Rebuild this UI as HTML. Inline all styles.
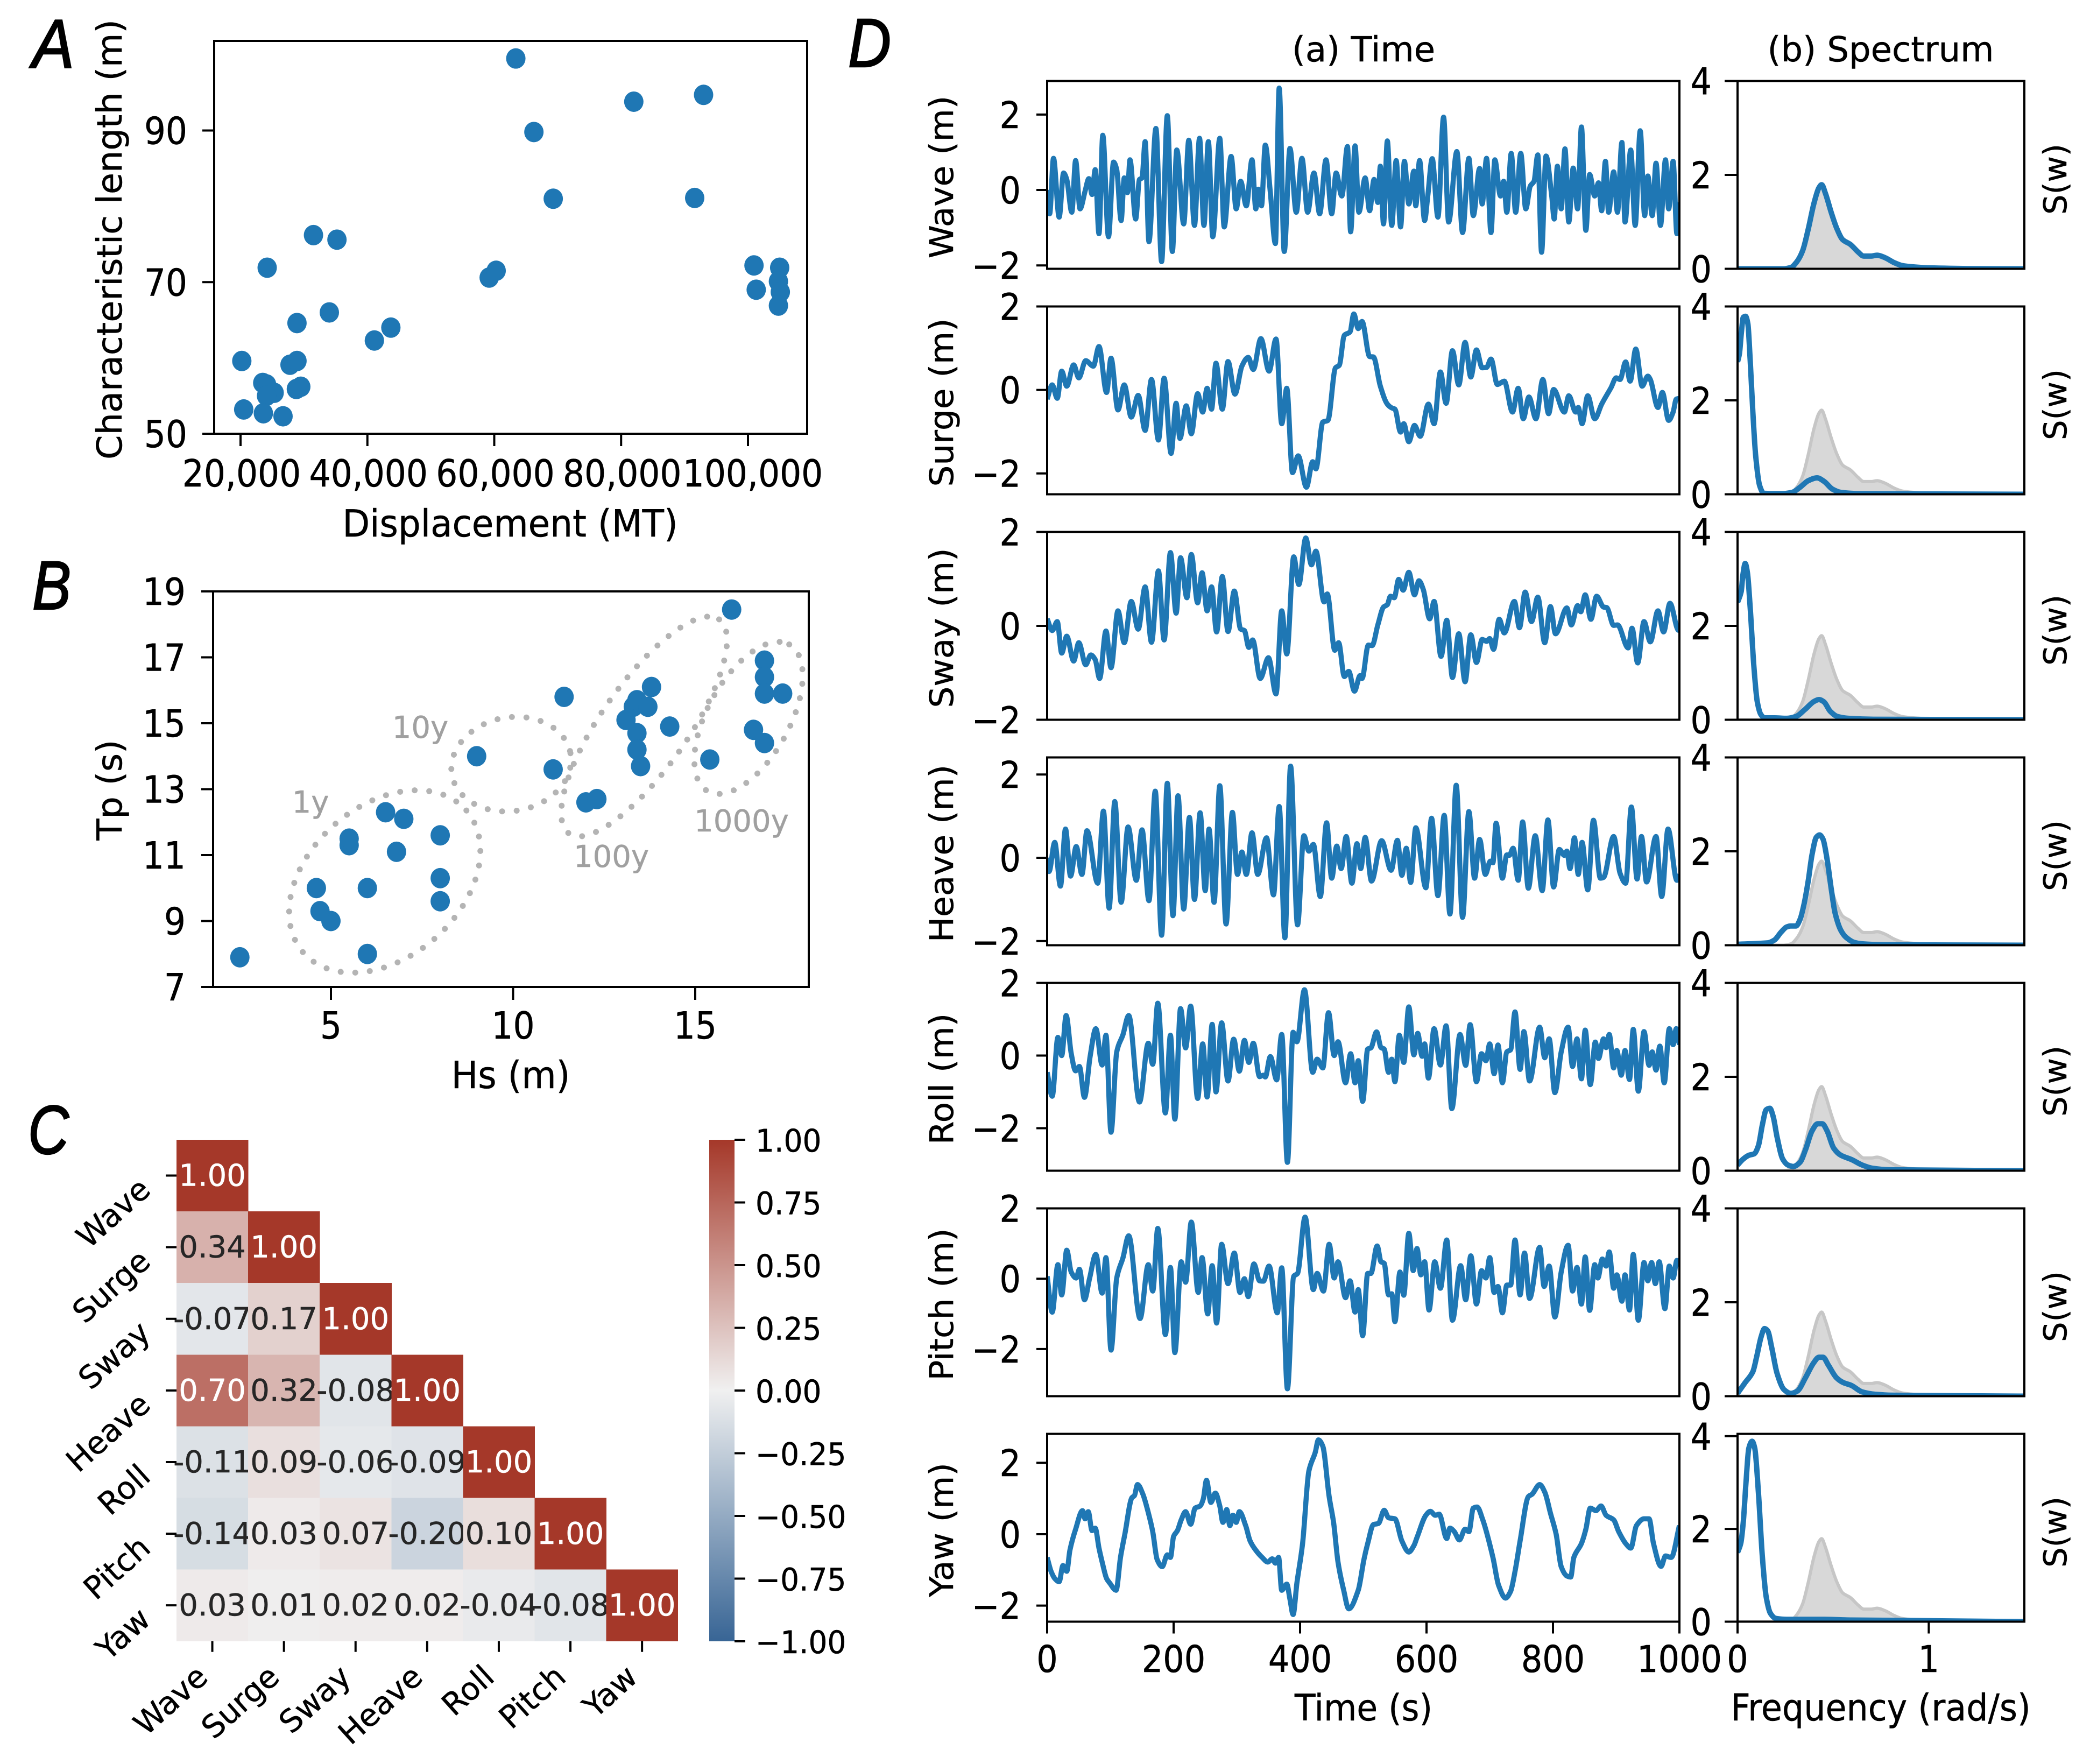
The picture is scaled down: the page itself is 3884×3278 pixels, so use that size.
<!DOCTYPE html>
<html lang="en">
<head>
<meta charset="utf-8">
<title>Ship response multi-panel figure</title>
<style>
html,body{margin:0;padding:0;background:#fff;}
svg{display:block;}
text{font-family:"DejaVu Sans","Liberation Sans",sans-serif;fill:#000;stroke:#000;stroke-width:0.5px;}
.panel-letter{font-family:"Liberation Sans",sans-serif;font-style:italic;font-size:128px;stroke-width:2.5px;}
</style>
</head>
<body>
<svg id="figure" xmlns="http://www.w3.org/2000/svg" width="3884" height="3278" viewBox="0 0 3884 3278">
<defs>
<linearGradient id="corrGradient" x1="0" y1="0" x2="0" y2="1">
<stop offset="0" stop-color="#A53829"/><stop offset="0.5" stop-color="#F0F0F0"/><stop offset="1" stop-color="#386595"/>
</linearGradient>
</defs>
<rect width="3884" height="3278" fill="#fff"/>
<text class="panel-letter" x="60" y="126" textLength="78" lengthAdjust="spacingAndGlyphs">A</text>
<text class="panel-letter" x="60" y="1132" textLength="72" lengthAdjust="spacingAndGlyphs">B</text>
<text class="panel-letter" x="52" y="2144" textLength="76" lengthAdjust="spacingAndGlyphs">C</text>
<text class="panel-letter" x="1576" y="124" textLength="80" lengthAdjust="spacingAndGlyphs">D</text>
<g id="layerA"></g>
<g id="layerB"></g>
<g id="ellipses" fill="none" stroke="#b4b4b4" stroke-width="11" stroke-linecap="round" stroke-dasharray="0.1 27">
<ellipse cx="715" cy="1638" rx="201" ry="141" transform="rotate(-41 715 1638)"/>
<ellipse cx="950" cy="1420" rx="112" ry="87" transform="rotate(-10.5 950 1420)"/>
<ellipse cx="1197" cy="1350" rx="243" ry="80" transform="rotate(-55 1197 1350)"/>
<ellipse cx="1391" cy="1334" rx="156" ry="76" transform="rotate(-61 1391 1334)"/>
</g>
<g font-size="56">
<text style="fill:#a0a0a0;stroke:#a0a0a0" x="577" y="1510" text-anchor="middle">1y</text>
<text style="fill:#a0a0a0;stroke:#a0a0a0" x="781" y="1371" text-anchor="middle">10y</text>
<text style="fill:#a0a0a0;stroke:#a0a0a0" x="1136" y="1611" text-anchor="middle">100y</text>
<text style="fill:#a0a0a0;stroke:#a0a0a0" x="1378" y="1545" text-anchor="middle">1000y</text>
</g>
<g id="layerC"></g>
<g id="layerD"></g>
</svg>
<script>
// ---------- Panel A data ----------
const displacementValues = [63400,82000,93000,66250,69300,91600,31500,35200,24200,59200,60300,100950,101300,105000,104800,105100,104800,34000,28900,43700,41100,20200,27800,28900,23500,24100,25300,24100,29500,28800,20500,23600,26700];
const lengthValues = [99.5,93.8,94.7,89.8,81.0,81.1,76.2,75.6,71.9,70.6,71.5,72.2,69.0,71.9,70.1,68.7,66.9,66.0,64.6,64.0,62.3,59.6,59.1,59.6,56.7,56.5,55.4,55.0,56.2,55.9,53.2,52.7,52.3];
const displacementTicks = [20000,40000,60000,80000,100000];
const lengthTicks = [50,70,90];
// ---------- Panel B data ----------
const hsValues = [2.5,6,5,4.7,4.6,6,8,8,8,6.8,5.5,5.5,6.5,7,9,11.1,11.4,12,12.3,13.1,13.3,13.4,13.4,13.4,13.5,13.7,13.8,14.3,15.4,16,16.6,16.9,16.9,16.9,16.9,17.4];
const tpValues = [7.9,8,9,9.3,10,10,9.6,10.3,11.6,11.1,11.3,11.5,12.3,12.1,14,13.6,15.8,12.6,12.7,15.1,15.5,15.7,14.7,14.2,13.7,15.5,16.1,14.9,13.9,18.45,14.8,14.4,16.9,16.4,15.9,15.9];
const hsTicks = [5,10,15];
const tpTicks = [7,9,11,13,15,17,19];
// ---------- Panel C data ----------
const dofLabels = ["Wave","Surge","Sway","Heave","Roll","Pitch","Yaw"];
const corrRows = [
[1.00],
[0.34,1.00],
[-0.07,0.17,1.00],
[0.70,0.32,-0.08,1.00],
[-0.11,0.09,-0.06,-0.09,1.00],
[-0.14,0.03,0.07,-0.20,0.10,1.00],
[0.03,0.01,0.02,0.02,-0.04,-0.08,1.00]
];
const colorbarTicks = [1,0.75,0.5,0.25,0,-0.25,-0.5,-0.75,-1];
// ---------- Panel D time-series data [time s, value m] ----------
const wavePoints = [[0,0],[4,-.63],[10,.84],[19,-.72],[26,.45],[31,.28],[39,-.59],[45,.78],[52,-.5],[60,-.03],[66,.3],[71,-.12],[76,.54],[82,-1.16],[88,1.45],[97,-1.24],[105,.74],[110,.54],[117,-.81],[122,.32],[127,-.07],[131,.8],[140,-.77],[146,.28],[150,.32],[155,1.28],[161,-1.37],[172,1.63],[181,-1.9],[190,1.97],[198,-1.63],[205,1.06],[216,-.9],[224,1.32],[233,-.94],[241,1.37],[248,-.94],[255,1.28],[262,-1.24],[273,1.37],[280,-.98],[291,.89],[299,-.5],[306,.23],[315,-.42],[324,.8],[330,-.5],[334,.02],[339,-.42],[345,1.19],[353,-.07],[361,-1.42],[367,2.7],[375,-1.63],[384,1.1],[394,-.59],[403,.84],[412,-.59],[422,.45],[431,-.63],[441,.8],[450,-.63],[457,.45],[466,-.16],[475,1.15],[480,-1.11],[487,1.17],[493,-.59],[503,.32],[510,-.55],[517,.28],[523,-.33],[527,.63],[532,-.9],[538,1.3],[545,-.94],[552,.78],[559,-.98],[565,.76],[572,-.37],[580,.5],[583,-.42],[589,.78],[597,-.81],[602,-.16],[609,.83],[618,-.72],[627,1.93],[635,-.85],[648,1.02],[657,-1.13],[667,.84],[674,-.68],[684,.57],[688,-.37],[695,.84],[702,-1.13],[708,.8],[717,-.16],[722,.23],[727,-.59],[734,.97],[741,-.59],[749,.97],[757,-.5],[764,.1],[770,.23],[776,.93],[782,-1.65],[789,.9],[798,-.16],[802,-.77],[807,.63],[813,-.5],[819,1.09],[825,-.85],[832,.58],[839,-.5],[845,1.67],[852,-1.07],[858,.41],[866,-.16],[872,.19],[877,-.55],[883,.76],[888,-.59],[896,.48],[902,-.59],[909,1.26],[914,-.85],[923,1.06],[930,-.94],[938,1.57],[945,-.68],[950,.37],[957,-.68],[963,.71],[970,-.94],[978,.8],[983,-.5],[990,.76],[996,-1.16],[1000,-.33]];
const surgePoints = [[0,-.22],[8,.12],[16,-.2],[23,.45],[31,.09],[42,.6],[50,.29],[61,.7],[73,.57],[82,1.04],[94,-.06],[101,.76],[112,-.48],[122,.12],[133,-.65],[144,-.13],[155,-.97],[165,.25],[176,-1.2],[185,.28],[196,-1.52],[204,-.32],[210,-1.16],[220,-.38],[228,-1.05],[238,-.09],[246,-.53],[253,.04],[260,-.46],[267,.64],[277,-.46],[286,.68],[297,-.1],[308,.57],[318,.78],[326,.49],[338,1.23],[351,.45],[362,1.22],[371,-.81],[379,.04],[388,-1.98],[397,-1.58],[410,-2.33],[420,-1.72],[425,-1.89],[436,-.77],[444,-.73],[456,.53],[462,.59],[470,1.31],[479,1.39],[485,1.82],[492,1.47],[498,1.64],[510,.8],[516,.79],[527,.09],[538,-.34],[545,-.43],[550,-.46],[559,-1.01],[564,-.81],[572,-1.24],[581,-.85],[590,-1.11],[603,-.34],[612,-.81],[622,.43],[631,-.32],[641,.94],[651,.12],[661,1.14],[670,.31],[679,.96],[688,.53],[695,.54],[702,.74],[712,.13],[723,.21],[736,-.53],[745,.04],[753,-.69],[762,-.17],[773,-.69],[784,.25],[793,-.57],[801,.01],[818,-.53],[825,-.14],[836,-.53],[840,-.42],[846,-.81],[855,-.14],[866,-.69],[877,-.34],[892,.06],[900,.29],[906,.25],[915,.67],[922,.21],[931,.98],[941,.09],[950,.33],[954,.25],[966,-.42],[973,-.06],[983,-.73],[990,-.53],[995,-.22],[1000,-.2]];
const swayPoints = [[0,.15],[8,-.1],[16,.09],[23,-.58],[31,-.22],[42,-.75],[50,-.36],[61,-.83],[69,-.62],[76,-.72],[83,-1.12],[93,-.11],[101,-.89],[112,.32],[122,-.36],[133,.52],[144,-.07],[155,.83],[165,-.35],[176,1.17],[185,-.3],[195,1.56],[204,.27],[211,1.45],[221,.6],[228,1.52],[238,.49],[245,1.13],[253,.32],[260,.83],[268,-.13],[277,1.05],[286,-.12],[296,.74],[306,-.07],[312,-.1],[319,-.46],[325,-.3],[337,-1.12],[350,-.68],[362,-1.45],[371,.32],[379,-.6],[390,1.47],[398,.88],[409,1.87],[418,1.3],[425,1.59],[438,.51],[443,.68],[455,-.52],[461,-.36],[470,-1.08],[477,-.97],[486,-1.39],[495,-1.06],[498,-1.12],[508,-.41],[514,-.42],[523,.02],[532,.4],[538,.45],[543,.63],[549,.6],[556,.99],[563,.76],[572,1.14],[581,.66],[588,.96],[595,.77],[605,.15],[612,.52],[623,-.65],[632,.12],[641,-1.1],[651,-.17],[661,-1.19],[670,-.19],[679,-.78],[688,-.29],[695,-.33],[700,-.27],[706,-.5],[715,.14],[723,-.15],[739,.52],[747,-.04],[756,.72],[766,.09],[776,.61],[787,-.36],[796,.41],[804,-.17],[822,.38],[829,.02],[839,.43],[844,.3],[851,.66],[860,.14],[869,.63],[880,.4],[885,.39],[896,.01],[902,.02],[919,-.47],[925,-.05],[934,-.79],[944,.09],[954,-.34],[966,.32],[975,-.13],[985,.48],[998,-.09],[1000,-.1]];
const heavePoints = [[0,0],[3,-.33],[12,.37],[21,-.68],[29,.69],[37,-.44],[46,.27],[55,-.4],[63,.65],[80,-.61],[89,1.12],[98,-1.21],[107,1.35],[117,-1.07],[128,.74],[141,-.54],[150,.67],[161,-1.03],[171,1.6],[181,-1.86],[190,1.79],[199,-1.39],[207,1.49],[216,-1.23],[225,.97],[233,-1],[242,1.08],[250,-.79],[256,.69],[264,-1.07],[273,1.73],[283,-1.59],[293,1.09],[301,-.4],[308,.14],[315,-.4],[324,.6],[333,-.4],[347,.48],[358,-.89],[367,1.23],[376,-1.92],[385,2.2],[396,-1.61],[406,.53],[414,.16],[421,.32],[432,-.93],[442,.84],[450,-.49],[458,.28],[465,-.26],[473,.51],[482,-.61],[490,.34],[496,-.26],[503,.49],[513,-.56],[529,.41],[544,-.3],[554,.42],[561,-.42],[568,.23],[575,-.59],[583,.72],[599,-.72],[608,.95],[618,-.91],[628,1.02],[637,-1.35],[647,1.74],[657,-1.43],[667,1.11],[676,-.49],[684,.44],[693,-.4],[701,-.08],[705,-.12],[710,.83],[720,-.49],[727,.07],[731,.06],[737,.23],[745,-.54],[752,.86],[761,-.73],[772,.53],[783,-.79],[792,.91],[801,-.7],[810,.2],[818,.06],[822,.16],[827,-.26],[834,.48],[840,-.4],[846,.37],[855,-.77],[864,.9],[875,-.49],[880,-.47],[896,.51],[906,-.37],[915,-.61],[924,1.22],[933,-.51],[940,.51],[948,-.58],[963,.51],[972,-.93],[982,.69],[996,-.54],[1000,-.4]];
const rollPoints = [[0,-.46],[8,-1.12],[17,.5],[23,0],[30,1.1],[38,.06],[45,-.42],[51,-.3],[59,-1.15],[68,-.02],[77,.74],[87,-.26],[93,.56],[101,-2.11],[110,.1],[120,.58],[129,1.1],[146,-1.28],[160,.34],[167,-.24],[175,1.44],[187,-1.58],[195,.56],[202,-1.75],[211,1.29],[219,.21],[227,1.36],[238,-1.18],[246,.32],[253,-1.14],[261,.86],[267,-1],[276,.9],[286,-.7],[295,.45],[304,-.43],[312,.42],[319,-.19],[326,.34],[336,-.58],[342,-.54],[345,-.59],[353,-.03],[363,-.67],[371,.58],[380,-2.94],[389,.64],[395,.38],[407,1.81],[420,-.46],[427,-.1],[436,-.34],[445,1.18],[454,0],[460,.38],[472,-.75],[480,.05],[487,-.75],[492,-.14],[499,-1.26],[507,.18],[512,.21],[521,.65],[528,.22],[533,.18],[540,-.46],[545,-.1],[550,-.72],[557,.56],[564,-.19],[572,1.34],[580,.02],[586,.61],[593,-.02],[597,.32],[603,-.62],[612,.74],[622,-.26],[631,.82],[640,-1.46],[653,.58],[662,-.27],[669,.85],[679,-.72],[687,.05],[694,-.14],[700,.32],[707,-.5],[713,.29],[720,-.75],[727,.1],[733,.16],[740,1.2],[748,-.38],[754,.66],[763,-.7],[779,.78],[787,-.06],[794,.46],[803,-1.02],[813,.1],[824,.78],[831,-.3],[838,.46],[845,-.64],[851,.7],[859,-.8],[867,.37],[872,-.08],[880,.46],[884,.22],[889,.58],[896,-.34],[901,.14],[908,-.54],[914,.14],[921,-.66],[927,.72],[935,-.98],[944,.66],[952,-.27],[957,.1],[963,-.4],[969,.26],[976,-.75],[984,.74],[990,.3],[995,.74],[1000,.3]];
const pitchPoints = [[0,.07],[8,-.95],[17,.4],[23,-.46],[31,.81],[38,.19],[46,.02],[51,.27],[59,-.6],[67,0],[77,.69],[87,-.41],[93,.6],[101,-2.03],[110,.02],[120,.6],[129,1.22],[147,-1.13],[160,.4],[167,-.35],[175,1.43],[187,-1.59],[195,.32],[202,-2.1],[212,.48],[219,-.1],[228,1.61],[239,-.39],[245,.6],[254,-1],[261,.37],[268,-1.26],[276,.98],[286,-.14],[296,.73],[305,-.39],[312,0],[318,-.51],[327,.42],[336,-.06],[342,-.07],[351,.36],[364,-.97],[371,.31],[380,-3.13],[390,.07],[396,.15],[408,1.75],[421,-.31],[427,.15],[437,-.35],[446,.98],[454,.02],[460,.48],[472,-.54],[479,-.06],[487,-.95],[492,-.31],[499,-1.62],[507,.15],[512,.15],[522,.93],[528,.48],[533,.44],[540,-.46],[545,-.43],[550,-1.22],[558,.19],[564,-.47],[572,1.29],[579,.23],[585,.86],[591,.11],[597,.48],[604,-.89],[613,.48],[622,-.27],[632,1.1],[641,-1.18],[654,.37],[662,-.6],[670,.65],[679,-.72],[687,.23],[694,.02],[700,.6],[707,-.39],[713,-.22],[720,-.97],[727,-.18],[733,-.18],[740,1.1],[748,-.46],[755,.73],[763,-.56],[779,.89],[786,-.22],[794,.36],[803,-1.09],[813,.19],[824,.95],[831,-.35],[838,.32],[845,-.72],[851,.62],[858,-.9],[866,.4],[871,.02],[878,.56],[884,.36],[889,.76],[896,-.27],[901,.11],[909,-.64],[914,.11],[921,-.89],[927,.69],[935,-1.18],[944,.46],[950,-.06],[956,.46],[962,-.14],[968,.48],[977,-.85],[984,.36],[990,.02],[996,.52],[1000,.36]];
const yawPoints = [[0,-.65],[6,-1.03],[12,-1.24],[19,-1.33],[25,-.88],[31,-1.04],[36,-.45],[45,.14],[56,.66],[60,.43],[65,.63],[71,.1],[76,.17],[82,-.39],[87,-.78],[94,-1.24],[99,-1.37],[109,-1.57],[116,-.65],[123,.01],[134,1.02],[138,1.08],[143,1.39],[151,1.14],[160,.6],[167,.07],[174,-.71],[182,-.91],[190,-.58],[195,-.65],[200,-.06],[206,.1],[212,.4],[219,.63],[227,.28],[234,.73],[242,.79],[247,.99],[252,1.51],[259,.89],[266,1.15],[273,.79],[278,.33],[284,.69],[289,.24],[294,.53],[299,.33],[304,.63],[314,.24],[321,-.19],[330,-.45],[340,-.65],[349,-.78],[356,-.69],[361,-.81],[366,-.65],[371,-1.57],[379,-1.4],[384,-1.82],[389,-2.25],[395,-1.37],[404,-.26],[414,1.77],[424,2.29],[429,2.64],[436,2.46],[446,1.05],[453,.33],[460,-.78],[469,-1.57],[477,-2.09],[492,-1.57],[501,-.71],[507,-.26],[516,.27],[524,.3],[533,.67],[540,.46],[550,.43],[561,-.19],[572,-.5],[580,-.32],[585,-.09],[599,.53],[606,.64],[614,.53],[620,.56],[632,-.12],[637,.17],[644,.07],[652,-.16],[661,.14],[667,.07],[674,.73],[680,.76],[689,.4],[705,-.65],[714,-1.43],[725,-1.79],[733,-1.6],[740,-1.04],[748,-.19],[761,1.05],[767,1.12],[779,1.39],[787,1.18],[796,.59],[805,0],[813,-.91],[822,-1.17],[828,-1.2],[833,-.65],[845,-.26],[852,.14],[859,.73],[868,.66],[876,.79],[884,.53],[896,.4],[904,.07],[915,-.26],[923,-.39],[932,.24],[944,.43],[952,.43],[959,-.26],[971,-.9],[978,-.61],[987,-.65],[1000,.24]];
// ---------- Panel D spectrum data [frequency rad/s, S(w)] ----------
const waveSpectrum = [[0,0],[.24,0],[.28,.03],[.31,.15],[.34,.38],[.37,.85],[.40,1.4],[.425,1.72],[.44,1.79],[.46,1.6],[.49,1.2],[.52,.85],[.55,.62],[.59,.52],[.63,.36],[.66,.27],[.70,.27],[.73,.29],[.77,.24],[.82,.13],[.86,.07],[.92,.04],[1,.02],[1.2,.005],[1.5,0]];
const surgeSpectrum = [[0,2.82],[.01,3.0],[.02,3.44],[.03,3.77],[.042,3.79],[.054,3.63],[.066,2.86],[.08,1.76],[.095,.81],[.116,.18],[.137,.02],[.17,.015],[.24,.015],[.285,.04],[.327,.15],[.37,.29],[.416,.35],[.454,.27],[.496,.11],[.54,.04],[.62,.015],[1.5,0]];
const swaySpectrum = [[0,2.5],[.019,2.73],[.028,3.08],[.04,3.33],[.052,3.12],[.066,2.39],[.085,1.16],[.103,.39],[.122,.11],[.141,.04],[.193,.04],[.259,.03],[.306,.07],[.353,.22],[.4,.39],[.426,.43],[.452,.38],[.485,.18],[.522,.07],[.58,.03],[.71,.01],[1.5,0]];
const heaveSpectrum = [[0,.02],[.158,.05],[.193,.11],[.228,.28],[.257,.39],[.278,.41],[.306,.41],[.327,.55],[.348,.88],[.37,1.38],[.39,1.94],[.412,2.3],[.429,2.35],[.447,2.26],[.468,1.84],[.49,1.2],[.51,.69],[.54,.32],[.567,.17],[.61,.06],[.65,.03],[.76,.01],[1.5,0]];
const rollSpectrum = [[0,.12],[.03,.25],[.06,.33],[.087,.36],[.109,.53],[.13,.98],[.15,1.3],[.169,1.33],[.186,1.16],[.207,.71],[.236,.25],[.264,.12],[.292,.09],[.327,.18],[.355,.44],[.39,.85],[.419,1.0],[.443,1.0],[.468,.85],[.503,.48],[.54,.33],[.595,.24],[.652,.12],[.708,.05],[.79,.02],[1.5,0]];
const pitchSpectrum = [[0,.06],[.038,.28],[.08,.52],[.1,.84],[.123,1.26],[.141,1.44],[.158,1.39],[.179,1.03],[.207,.48],[.243,.14],[.278,.06],[.313,.11],[.355,.39],[.398,.71],[.426,.83],[.447,.83],[.475,.66],[.518,.39],[.553,.29],[.595,.23],[.652,.09],[.72,.04],[.81,.02],[1.5,0]];
const yawSpectrum = [[0,1.49],[.017,1.69],[.03,2.15],[.045,3.05],[.059,3.74],[.076,3.89],[.09,3.74],[.109,2.8],[.13,1.39],[.15,.53],[.172,.18],[.2,.07],[.257,.05],[.454,.05],[.595,.035],[1,.02],[1.5,0]];
const timeSeriesList = [wavePoints,surgePoints,swayPoints,heavePoints,rollPoints,pitchPoints,yawPoints];
const spectrumList = [waveSpectrum,surgeSpectrum,swaySpectrum,heaveSpectrum,rollSpectrum,pitchSpectrum,yawSpectrum];
const timeYLimits = [[-2.09,2.89],[-2.5,2],[-2,2],[-2.1,2.41],[-3.17,2],[-3.34,2],[-2.45,2.81]];
const timeYTicks = [-2,0,2];
const timeXTicks = [0,200,400,600,800,1000];
const spectrumYTicks = [0,2,4];
const spectrumXTicks = [0,1];

const NS = "http://www.w3.org/2000/svg";
const BLUE = "#1f77b4";

function make(parent, tag, geom){
  const el = document.createElementNS(NS, tag);
  for (const k in geom) el.setAttribute(k, geom[k]);
  parent.appendChild(el);
  return el;
}
function linearScale(d0,d1,r0,r1){ return v => r0 + (v-d0)/(d1-d0)*(r1-r0); }
function label(parent,str,x,y,size,anchor,rot,stretch){
  const sy = stretch===undefined ? 1.1 : stretch;
  const t = rot ? `translate(${x} ${y}) rotate(-90) scale(${sy} 1)` : `translate(${x} ${y}) scale(1 ${sy})`;
  const el = make(parent,"text",{transform:t,"font-size":size,"text-anchor":anchor});
  el.textContent = str;
  return el;
}
function frame(parent,box){
  const el = make(parent,"rect",{x:box.x,y:box.y,width:box.w,height:box.h,fill:"none",stroke:"#000","stroke-width":4});
  return el;
}
function tickLine(parent,x1,y1,x2,y2){
  return make(parent,"line",{x1:x1,y1:y1,x2:x2,y2:y2,stroke:"#000","stroke-width":4});
}
function monotonePath(pts){
  const n = pts.length;
  const m = new Array(n).fill(0);
  const s = [];
  for (let i=0;i<n-1;i++) s.push((pts[i+1][1]-pts[i][1])/((pts[i+1][0]-pts[i][0])||1e-6));
  for (let i=1;i<n-1;i++){
    if (s[i-1]*s[i] > 0) m[i] = 2*s[i-1]*s[i]/(s[i-1]+s[i]);
  }
  m[0] = s[0]; m[n-1] = s[n-2];
  let d = `M${pts[0][0].toFixed(1)} ${pts[0][1].toFixed(1)}`;
  for (let i=0;i<n-1;i++){
    const h = (pts[i+1][0]-pts[i][0])/3;
    d += `C${(pts[i][0]+h).toFixed(1)} ${(pts[i][1]+m[i]*h).toFixed(1)} ${(pts[i+1][0]-h).toFixed(1)} ${(pts[i+1][1]-m[i+1]*h).toFixed(1)} ${pts[i+1][0].toFixed(1)} ${pts[i+1][1].toFixed(1)}`;
  }
  return d;
}
function clipFor(box,id){
  const svg = document.getElementById("figure");
  const defs = svg.querySelector("defs");
  const c = make(defs,"clipPath",{id:id});
  make(c,"rect",{x:box.x,y:box.y,width:box.w,height:box.h});
}
function thousands(v){ return String(v).replace(/\B(?=(\d{3})+$)/g,","); }

// ---------- Panel A ----------
(function(){
  const g = document.getElementById("layerA");
  const box = {x:398,y:76,w:1102,h:730};
  const sx = linearScale(20000,100000,447,1390);
  const sy = linearScale(50,90,806,242.5);
  displacementValues.forEach((d,i)=>{
    const el = make(g,"ellipse",{cx:sx(d),cy:sy(lengthValues[i]),rx:18,ry:19,fill:BLUE});
    
    
  });
  const fr = frame(g,box);
  
  
  displacementTicks.forEach(v=>{
    const tk = tickLine(g,sx(v),806,sx(v),829);
    
    
    const t = label(g,thousands(v),sx(v)+(v>=100000?9:2),904,63,"middle");
    
    
  });
  lengthTicks.forEach(v=>{
    const tk = tickLine(g,376,sy(v),398,sy(v));
    
    
    const t = label(g,String(v),348,sy(v)+25,63,"end");
    
    
  });
  const xt = label(g,"Displacement (MT)",948,997,66,"middle",false,1.06);
  
  
  const yt = label(g,"Characteristic length (m)",226,445,64,"middle",true,1.02);
  
  
})();

// ---------- Panel B ----------
(function(){
  const g = document.getElementById("layerB");
  const box = {x:396,y:1099,w:1107,h:735};
  const sx = linearScale(5,15,615,1292);
  const sy = linearScale(7,19,1834,1099);
  hsValues.forEach((h,i)=>{
    const el = make(g,"ellipse",{cx:sx(h),cy:sy(tpValues[i]),rx:18,ry:19,fill:BLUE});
    
    
  });
  const fr = frame(g,box);
  
  
  hsTicks.forEach(v=>{
    const tk = tickLine(g,sx(v),1834,sx(v),1858);
    
    
    const t = label(g,String(v),sx(v),1930,63,"middle");
    
    
  });
  tpTicks.forEach(v=>{
    const tk = tickLine(g,374,sy(v),396,sy(v));
    
    
    const t = label(g,String(v),345,sy(v)+25,63,"end");
    
    
  });
  const xt = label(g,"Hs (m)",949,2022,66,"middle",false,1.06);
  
  
  const yt = label(g,"Tp (s)",226,1468,64,"middle",true,1.02);
  
  
})();

// ---------- Panel C ----------
function corrColor(v){
  const mid = [240,240,240], hi = [165,56,41], lo = [56,101,149];
  const end = v >= 0 ? hi : lo, a = Math.min(1,Math.abs(v));
  return "rgb(" + mid.map((c,i)=>Math.round(c+(end[i]-c)*a)).join(",") + ")";
}
(function(){
  const g = document.getElementById("layerC");
  const left = 328, top = 2118, cell = 133.1;
  corrRows.forEach((row,r)=>{
    row.forEach((v,c)=>{
      const rc = make(g,"rect",{x:left+c*cell,y:top+r*cell,width:cell+0.5,height:cell+0.5,fill:corrColor(v),"shape-rendering":"crispEdges"});
      
      
      const tone = Math.abs(v)>0.5 ? "#ffffff" : "#262626";
      const t = make(g,"text",{x:left+(c+.5)*cell,y:top+(r+.5)*cell+19,"font-size":56,"text-anchor":"middle"});
      t.setAttribute('style',"fill:"+tone+";stroke:"+tone);
      t.textContent = v.toFixed(2);
      
      
    });
  });
  dofLabels.forEach((name,i)=>{
    const cx = left+(i+.5)*cell, cy = top+(i+.5)*cell;
    const tx = tickLine(g,cx,top+7*cell,cx,top+7*cell+20);
    
    
    const ty = tickLine(g,left-20,cy,left,cy);
    
    
    const lx = make(g,"text",{transform:`translate(${cx-5} 3121) rotate(-42)`,"font-size":58,"text-anchor":"end"});
    lx.textContent = name;
    
    
    const ly = make(g,"text",{transform:`translate(283 ${cy+31}) rotate(-42)`,"font-size":58,"text-anchor":"end"});
    ly.textContent = name;
    
    
  });
  const bar = make(g,"rect",{x:1318,y:2118,width:47,height:932,fill:"url(#corrGradient)"});
  
  
  const sc = linearScale(-1,1,3050,2118);
  colorbarTicks.forEach(v=>{
    const tk = tickLine(g,1365,sc(v),1385,sc(v));
    
    
    const t = label(g,v.toFixed(2).replace("-","\u2212"),1404,sc(v)+22,55,"start",false,1.05);
    
    
  });
})();

// ---------- Panel D ----------
(function(){
  const g = document.getElementById("layerD");
  const rowTop = i => 150.5 + i*419;
  const rowH = 349;
  dofLabels.forEach((name,i)=>{
    const key = name.toLowerCase();
    const top = rowTop(i), bottom = top+rowH;
    // time axes
    const tb = {x:1946,y:top,w:1175,h:rowH};
    clipFor(tb,"clipTime"+i);
    const sx = linearScale(0,1000,1946,3121);
    const lim = timeYLimits[i];
    const sy = linearScale(lim[0],lim[1],bottom,top);
    const pts = timeSeriesList[i].map(p=>[sx(p[0]),sy(p[1])]);
    const ln = make(g,"path",{d:monotonePath(pts),fill:"none",stroke:BLUE,"stroke-width":9.5,"stroke-linejoin":"round","clip-path":`url(#clipTime${i})`});
    
    
    const tf = frame(g,tb);
    
    
    timeYTicks.forEach(v=>{
      const tk = tickLine(g,1926,sy(v),1946,sy(v));
      
      
      const t = label(g,String(v).replace("-","\u2212"),1897,sy(v)+25,62,"end");
      
      
    });
    const yt = label(g,name+" (m)",1771,top+rowH/2+4,61,"middle",true,1.03);
    
    
    // spectrum axes
    const sb = {x:3229,y:top,w:533,h:rowH};
    clipFor(sb,"clipSpec"+i);
    const fx = linearScale(0,1.5,3229,3762);
    const fy = linearScale(0,i===6?4.05:4,bottom,top);
    const grey = waveSpectrum.map(p=>[fx(p[0]),fy(p[1])]);
    const greyLine = monotonePath(grey);
    const area = make(g,"path",{d:greyLine+`L${fx(1.5)} ${fy(0)}L${fx(0)} ${fy(0)}Z`,fill:"#d8d8d8","clip-path":`url(#clipSpec${i})`});
    
    
    const gl = make(g,"path",{d:greyLine,fill:"none",stroke:"#c6c6c6","stroke-width":6,"clip-path":`url(#clipSpec${i})`});
    
    
    const blue = spectrumList[i].map(p=>[fx(p[0]),fy(p[1])]);
    const bl = make(g,"path",{d:monotonePath(blue),fill:"none",stroke:BLUE,"stroke-width":10,"stroke-linejoin":"round","clip-path":`url(#clipSpec${i})`});
    
    
    const sf = frame(g,sb);
    
    
    spectrumYTicks.forEach(v=>{
      const tk = tickLine(g,3205,fy(v),3229,fy(v));
      
      
      const t = label(g,String(v),3181,fy(v)+25,62,"end");
      
      
    });
    const st = label(g,"S(w)",3840,top+rowH/2+8,59,"middle",true,1.0);
    
    
    if (i===6){
      timeXTicks.forEach(v=>{
        const tk = tickLine(g,sx(v),bottom,sx(v),bottom+22);
        
        
        const t = label(g,String(v),sx(v),3107,62,"middle");
        
        
      });
      spectrumXTicks.forEach(v=>{
        const tk = tickLine(g,fx(v),bottom,fx(v),bottom+22);
        
        
        const t = label(g,String(v),fx(v),3107,62,"middle");
        
        
      });
    }
  });
  const tt = label(g,"Time (s)",2534,3197,63,"middle",false,1.08);
  
  
  const ft = label(g,"Frequency (rad/s)",3495,3197,63.5,"middle",false,1.08);
  
  
  const ta = label(g,"(a) Time",2534,114,64,"middle",false,1);
  
  
  const tb = label(g,"(b) Spectrum",3495,114,64,"middle",false,1);
  
  
})();
</script>
</body>
</html>
